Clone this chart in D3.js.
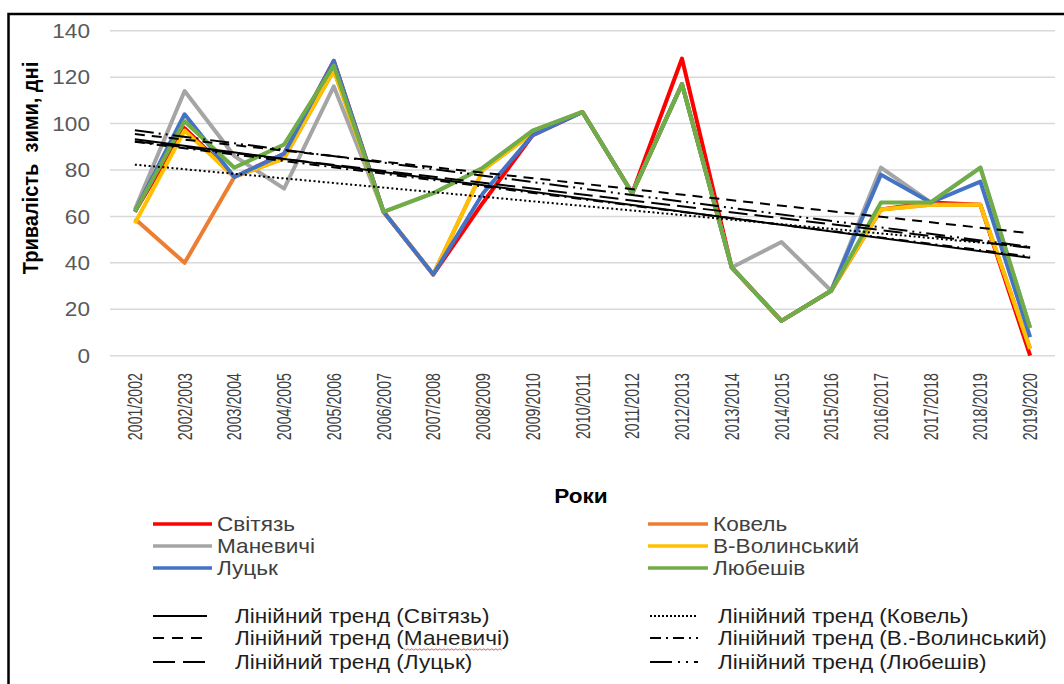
<!DOCTYPE html>
<html>
<head>
<meta charset="utf-8">
<script src="https://cdn.jsdelivr.net/npm/d3@7/dist/d3.min.js"></script>
<style>
	body { margin: 0; background: #fff; }
	svg { display: block; font-family: "Liberation Sans", Arial, sans-serif; }
	.grid line { stroke: #d9d9d9; stroke-width: 1.5; }
	.yTick { fill: #595959; font-size: 20px; }
	.xTick { fill: #404040; font-size: 14.2px; }
	.axisTitle { fill: #000; font-size: 20px; font-weight: bold; }
	.legendText { fill: #404040; font-size: 20px; }
	.trendText { fill: #1e1e1e; font-size: 20px; }
</style>
</head>
<body>
<script>
//local scope
(function(){

//categories on the x axis
var seasons = ["2001/2002","2002/2003","2003/2004","2004/2005","2005/2006","2006/2007","2007/2008",
	"2008/2009","2009/2010","2010/2011","2011/2012","2012/2013","2013/2014","2014/2015",
	"2015/2016","2016/2017","2017/2018","2018/2019","2019/2020"];

//winter duration, days
var svityaz   = [62, 98, 77, 87, 127, 62, 35, 66, 95, 105, 70, 128, 38, 15, 28, 63, 66, 65, 0];
var kovel     = [59, 40, 77, 85, 123, 62, 35, 80, 96, 105, 70, 117, 38, 15, 28, 63, 65, 65, 3];
var manevychi = [63, 114, 86, 72, 116, 62, 70, 81, 97, 105, 70, 117, 38, 49, 28, 81, 66, 81, 12];
var vVolynsky = [57, 97, 77, 85, 123, 62, 35, 80, 96, 105, 70, 117, 38, 15, 28, 63, 65, 65, 3];
var lutsk     = [62, 104, 77, 87, 127, 62, 35, 70, 95, 105, 70, 117, 38, 15, 28, 78, 66, 75, 8];
var liubeshiv = [62, 101, 81, 91, 125, 62, 70, 81, 97, 105, 70, 117, 38, 15, 28, 66, 66, 81, 12];

var stationNames = ["Світязь", "Ковель", "Маневичі", "В-Волинський", "Луцьк", "Любешів"];
var trendNames = ["Лінійний тренд (Світязь)", "Лінійний тренд (Ковель)", "Лінійний тренд (Маневичі)",
	"Лінійний тренд (В.-Волинський)", "Лінійний тренд (Луцьк)", "Лінійний тренд (Любешів)"];

var yTicks = [0, 20, 40, 60, 80, 100, 120, 140];

var seriesValues = [svityaz, kovel, manevychi, vVolynsky, lutsk, liubeshiv];
var colors = ["#ff0000", "#ed7d31", "#a5a5a5", "#ffc000", "#4472c4", "#70ad47"];
var trendDash = ["none", "2,2.6", "10,7", "10,5,2,5", "19,7", "19,5,2,5,2,5"];
var legendDash = ["none", "2,2", "11,8", "11,5,2,5", "22,8", "22,6,2,6,2,6"];

//the source picture is a bit wider than tall, so text is stretched sideways
var stretch = 1.13;

window.onload = drawChart();

function drawChart(){
	var width = 1064, height = 684;

	var svg = d3.select("body")
		.append("svg")
		.attr("width", width)
		.attr("height", height);

	//outer frame
	svg.append("path")
		.attr("d", "M8.5,690 L8.5,14 L1070,14")
		.attr("fill", "none")
		.attr("stroke", "#000")
		.attr("stroke-width", 2.5);

	//scales
	var x = d3.scalePoint()
		.domain(seasons)
		.range([110, 1055])
		.padding(0.5);

	var y = d3.scaleLinear()
		.domain([0, 140])
		.range([355.7, 30.7]);

	//gridlines
	svg.append("g")
		.attr("class", "grid")
		.selectAll("line")
		.data(yTicks)
		.enter()
		.append("line")
		.attr("x1", 110)
		.attr("x2", 1055)
		.attr("y1", function(d){ return y(d); })
		.attr("y2", function(d){ return y(d); });

	//y tick labels
	svg.selectAll(".yTick")
		.data(yTicks)
		.enter()
		.append("text")
		.attr("class", "yTick")
		.attr("transform", function(d){ return "translate(90," + y(d) + ") scale(" + stretch + ",1)"; })
		.attr("dy", "0.36em")
		.attr("text-anchor", "end")
		.text(function(d){ return d; });

	//x tick labels, rotated
	svg.selectAll(".xTick")
		.data(seasons)
		.enter()
		.append("text")
		.attr("class", "xTick")
		.attr("transform", function(d){ return "translate(" + x(d) + ",373) scale(1.38,1) rotate(-90)"; })
		.attr("dy", "0.36em")
		.attr("text-anchor", "end")
		.text(function(d){ return d; });

	//axis titles
	svg.append("text")
		.attr("class", "axisTitle")
		.attr("transform", "translate(38,168) scale(" + stretch + ",1) rotate(-90)")
		.attr("text-anchor", "middle")
		.style("white-space", "pre")
		.text("Тривалість  зими, дні");

	svg.append("text")
		.attr("class", "axisTitle")
		.attr("transform", "translate(581,503) scale(" + stretch + ",1)")
		.attr("text-anchor", "middle")
		.text("Роки");

	//station lines
	var line = d3.line()
		.x(function(d, i){ return x(seasons[i]); })
		.y(function(d){ return y(d); });

	svg.append("g")
		.selectAll("path")
		.data(seriesValues)
		.enter()
		.append("path")
		.attr("d", line)
		.attr("fill", "none")
		.attr("stroke", function(d, i){ return colors[i]; })
		.attr("stroke-width", 4)
		.attr("stroke-linejoin", "round");

	//linear trends (least squares) on top
	svg.append("g")
		.selectAll("line")
		.data(seriesValues.map(linearFit))
		.enter()
		.append("line")
		.attr("x1", x(seasons[0]))
		.attr("x2", x(seasons[seasons.length - 1]))
		.attr("y1", function(d){ return y(d.b); })
		.attr("y2", function(d){ return y(d.b + d.a * (seasons.length - 1)); })
		.attr("stroke", "#000")
		.attr("stroke-width", 2)
		.attr("stroke-dasharray", function(d, i){ return trendDash[i]; });

	setLegend(svg);
};

//slope a and intercept b of a straight line through the values
function linearFit(vals){
	var n = vals.length,
		mx = d3.mean(vals, function(d, i){ return i; }),
		my = d3.mean(vals),
		sxy = 0, sxx = 0;
	for (var i=0; i<n; i++){
		sxy += (i - mx) * (vals[i] - my);
		sxx += (i - mx) * (i - mx);
	};
	var a = sxy / sxx;
	return {a: a, b: my - a * mx};
};

//two column legend: stations then trends
function setLegend(svg){
	var colLine = [[153, 212], [648, 708]],
		rowY = [524, 546, 568];

	var items = svg.append("g")
		.selectAll("g")
		.data(stationNames)
		.enter()
		.append("g")
		.attr("transform", function(d, i){
			return "translate(" + colLine[i % 2][0] + "," + rowY[Math.floor(i / 2)] + ")";
		});

	items.append("line")
		.attr("x1", 0)
		.attr("x2", function(d, i){ return colLine[i % 2][1] - colLine[i % 2][0]; })
		.attr("stroke", function(d, i){ return colors[i]; })
		.attr("stroke-width", 3.5);

	items.append("text")
		.attr("class", "legendText")
		.attr("transform", function(d, i){
			return "translate(" + (colLine[i % 2][1] - colLine[i % 2][0] + 5) + ",0) scale(" + stretch + ",1)";
		})
		.attr("dy", "0.36em")
		.text(function(d){ return d; });

	var trendLine = [[153, 207, 235], [650, 698, 718]],
		trendY = [616, 638, 662];

	var trends = svg.append("g")
		.selectAll("g")
		.data(trendNames)
		.enter()
		.append("g")
		.attr("transform", function(d, i){
			return "translate(0," + trendY[Math.floor(i / 2)] + ")";
		});

	trends.append("line")
		.attr("x1", function(d, i){ return trendLine[i % 2][0]; })
		.attr("x2", function(d, i){ return trendLine[i % 2][1]; })
		.attr("stroke", "#000")
		.attr("stroke-width", 2)
		.attr("stroke-dasharray", function(d, i){ return legendDash[i]; });

	trends.append("text")
		.attr("class", "trendText")
		.attr("transform", function(d, i){ return "translate(" + trendLine[i % 2][2] + ",0) scale(" + stretch + ",1)"; })
		.attr("dy", "0.36em")
		.text(function(d){ return d; });

	//red spell-check squiggle under "(Маневичі)"
	var t = trends.filter(function(d, i){ return i == 2; }).select("text").node();
	var full = t.getComputedTextLength() * stretch;
	var start = t.getSubStringLength(0, trendNames[2].indexOf("(") + 1) * stretch;
	var x0 = 235 + start, x1 = 235 + full - 6, pts = [];
	for (var px = x0, k = 0; px <= x1; px += 2, k++){
		pts.push([px, 649 + (k % 2 ? 1.2 : -0.2)]);
	};
	svg.append("path")
		.attr("d", d3.line()(pts))
		.attr("fill", "none")
		.attr("stroke", "#e03030")
		.attr("stroke-width", 0.8);
};

})();
</script>
</body>
</html>
